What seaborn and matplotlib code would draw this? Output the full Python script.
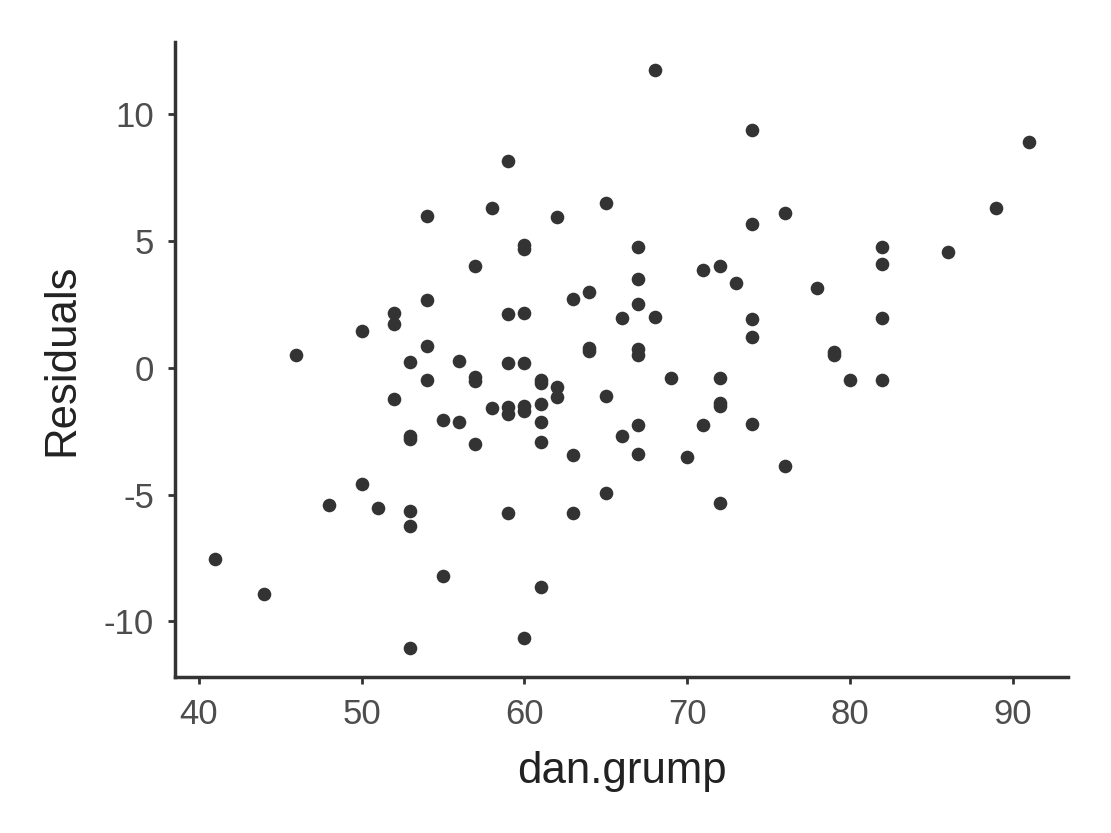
import matplotlib
matplotlib.use("Agg")
import matplotlib.pyplot as plt
import seaborn as sns
import pandas as pd

# dan.grump values and residuals
dan_grump = [41, 44, 46, 48, 50, 50, 51, 52, 52, 52,
             53, 53, 53, 53, 53, 53, 54, 54, 54, 54,
             55, 55, 56, 56, 57, 57, 57, 57, 58, 58,
             59, 59, 59, 59, 59, 59, 60, 60, 60, 60,
             60, 60, 60, 61, 61, 61, 61, 61, 61, 62,
             62, 62, 63, 63, 63, 64, 64, 64, 65, 65,
             65, 66, 66, 67, 67, 67, 67, 67, 67, 67,
             68, 68, 69, 70, 71, 71, 72, 72, 72, 72,
             72, 73, 74, 74, 74, 74, 74, 76, 76, 78,
             79, 79, 80, 82, 82, 82, 82, 86, 89, 91]
residuals = [-7.54, -8.92, 0.51, -5.41, 1.46, -4.58, -5.52, 2.17, 1.74, -1.22,
             0.24, -2.68, -2.80, -5.64, -6.24, -11.05, 6.00, 2.68, 0.87, -0.47,
             -2.05, -8.21, 0.28, -2.13, 4.03, -0.36, -0.51, -3.00, 6.31, -1.58,
             8.17, 2.13, 0.20, -1.54, -1.82, -5.72, 4.85, 4.70, 2.17, 0.20,
             -1.50, -1.70, -10.65, -0.47, -0.59, -1.42, -2.13, -2.92, -8.64, 5.96,
             -0.75, -1.14, 2.72, -3.43, -5.72, 3.00, 0.79, 0.67, 6.51, -1.10,
             -4.93, 1.97, -2.68, 4.78, 3.51, 2.53, 0.75, 0.51, -2.25, -3.39,
             11.76, 2.01, -0.39, -3.51, 3.87, -2.25, 4.03, -0.39, -1.38, -1.50,
             -5.33, 3.35, 9.39, 5.68, 1.93, 1.22, -2.21, 6.12, -3.87, 3.16,
             0.63, 0.51, -0.47, 4.78, 4.10, 1.97, -0.47, 4.58, 6.31, 8.92]

x_ticks = [40, 50, 60, 70, 80, 90]
y_ticks = [-10, -5, 0, 5, 10]
y_tick_labels = ["-10", "-5", "0", "5", "10"]

df = pd.DataFrame({"dan.grump": dan_grump, "Residuals": residuals})

sns.set_theme(style="ticks")
plt.rcParams["font.family"] = ["Liberation Sans", "DejaVu Sans"]

fig = plt.figure(figsize=(11.11, 8.33), dpi=100)
ax = fig.add_axes([0.1575, 0.1873, 0.8038, 0.7623])

sns.scatterplot(data=df, x="dan.grump", y="Residuals", ax=ax,
                color="#333333", s=96, linewidth=0)

ax.set_xlim(38.54, 93.40)
ax.set_ylim(-12.19, 12.86)
ax.set_xticks(x_ticks)
ax.set_yticks(y_ticks)
ax.set_yticklabels(y_tick_labels)

sns.despine(ax=ax)
for side in ["left", "bottom"]:
    ax.spines[side].set_linewidth(2.5)
    ax.spines[side].set_color("#333333")

ax.tick_params(axis="both", length=5, width=2, color="#333333",
               labelsize=25, labelcolor="#4d4d4d", pad=10)

ax.set_xlabel("dan.grump", fontsize=31.5, color="#222222")
ax.set_ylabel("Residuals", fontsize=31.5, color="#222222")
ax.xaxis.set_label_coords(0.5, -0.1165)
ax.yaxis.set_label_coords(-0.1036, 0.5)

fig.savefig("out.png", dpi=100)
